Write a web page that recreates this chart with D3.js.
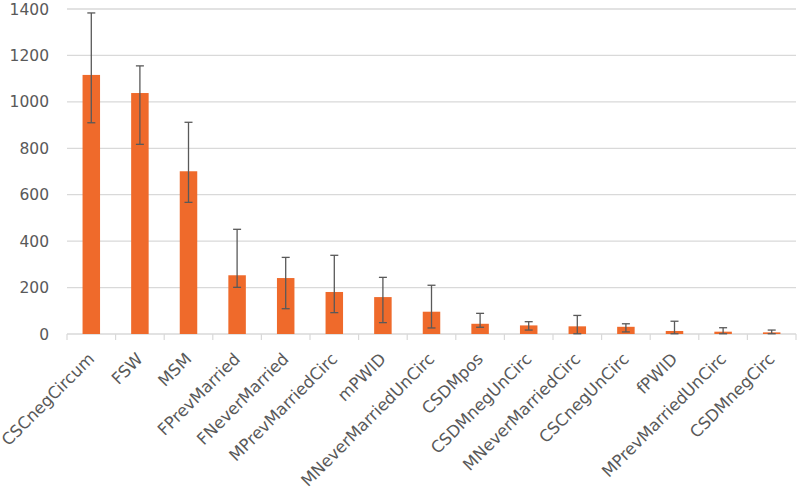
<!DOCTYPE html>
<html>
<head>
<meta charset="utf-8">
<script src="https://cdn.jsdelivr.net/npm/d3@7"></script>
<style>
  html, body { margin: 0; padding: 0; background: #fff; }
  svg { display: block; }
</style>
</head>
<body>
<svg id="chart" width="800" height="487"></svg>
<script>
const categories = ["CSCnegCircum","FSW","MSM","FPrevMarried","FNeverMarried","MPrevMarriedCirc","mPWID","MNeverMarriedUnCirc","CSDMpos","CSDMnegUnCirc","MNeverMarriedCirc","CSCnegUnCirc","fPWID","MPrevMarriedUnCirc","CSDMnegCirc"];
const values =    [1116, 1038, 701, 253, 241, 181, 159, 96, 44, 37, 33, 31, 13, 10, 7];
const errLower =  [910, 817, 567, 201, 109, 92, 49, 26, 29, 17, 1, 9, 1, 1, 1];
const errUpper =  [1383, 1155, 912, 451, 330, 339, 244, 210, 89, 53, 80, 44, 55, 27, 17];
const yTicks =    [0, 200, 400, 600, 800, 1000, 1200, 1400];

const svg = d3.select("#chart");
const mLeft = 67, mRight = 796, mTop = 9, mBottom = 334;
const font = "'DejaVu Sans', sans-serif";

const x = d3.scaleBand().domain(categories).range([mLeft, mRight]).paddingInner(0.64).paddingOuter(0.32);
const y = d3.scaleLinear().domain([0, 1400]).range([mBottom, mTop]);

// gridlines
svg.append("g").selectAll("line").data(yTicks).join("line")
  .attr("x1", mLeft).attr("x2", mRight)
  .attr("y1", d => y(d)).attr("y2", d => y(d))
  .attr("stroke", "#d9d9d9").attr("stroke-width", 1.3);

// y labels
svg.append("g").selectAll("text").data(yTicks).join("text")
  .attr("x", mLeft - 18).attr("y", d => y(d)).attr("dy", "0.36em")
  .attr("text-anchor", "end")
  .attr("font-family", font).attr("font-size", 15.5).attr("fill", "#595959")
  .text(d => d);

// x tick marks at category boundaries
const step = x.step();
const boundaries = d3.range(categories.length + 1).map(i => mLeft + i * step);
svg.append("g").selectAll("line").data(boundaries).join("line")
  .attr("x1", d => d).attr("x2", d => d)
  .attr("y1", mBottom).attr("y2", mBottom + 6)
  .attr("stroke", "#d9d9d9").attr("stroke-width", 1.2);

// bars
svg.append("g").selectAll("rect").data(categories).join("rect")
  .attr("x", d => x(d)).attr("width", x.bandwidth())
  .attr("y", (d, i) => y(values[i]))
  .attr("height", (d, i) => y(0) - y(values[i]))
  .attr("fill", "#EF6A2B");

// error bars
const eg = svg.append("g").attr("stroke", "#595959").attr("stroke-width", 1.3);
categories.forEach((c, i) => {
  const cx = x(c) + x.bandwidth() / 2;
  eg.append("line").attr("x1", cx).attr("x2", cx).attr("y1", y(errLower[i])).attr("y2", y(errUpper[i]));
  eg.append("line").attr("x1", cx - 4).attr("x2", cx + 4).attr("y1", y(errLower[i])).attr("y2", y(errLower[i]));
  eg.append("line").attr("x1", cx - 4).attr("x2", cx + 4).attr("y1", y(errUpper[i])).attr("y2", y(errUpper[i]));
});

// x labels
svg.append("g").selectAll("text").data(categories).join("text")
  .attr("transform", d => `translate(${x(d) + x.bandwidth() / 2 + 4},${mBottom + 26}) rotate(-45)`)
  .attr("text-anchor", "end")
  .attr("font-family", font).attr("font-size", 16.5).attr("fill", "#595959")
  .text(d => d);
</script>
</body>
</html>
